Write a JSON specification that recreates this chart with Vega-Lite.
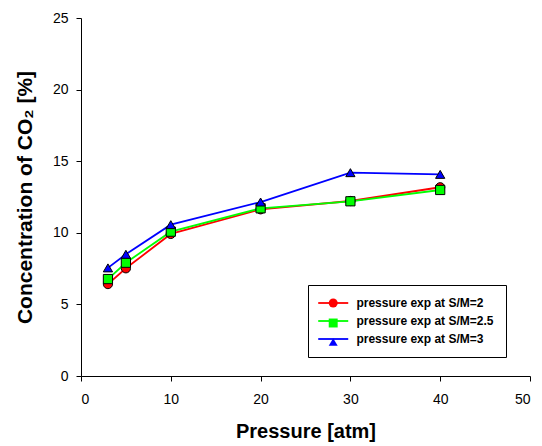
{
  "$schema": "https://vega.github.io/schema/vega-lite/v6.json",
  "width": 449,
  "height": 358,
  "autosize": "none",
  "padding": {"left": 81, "top": 18, "right": 12, "bottom": 70},
  "background": "white",
  "config": {
    "view": {"stroke": null},
    "font": "Liberation Sans",
    "axis": {
      "grid": false,
      "domainColor": "black",
      "tickColor": "black",
      "labelColor": "black",
      "titleColor": "black",
      "labelFontSize": 14,
      "titleFontSize": 20,
      "titleFontWeight": "bold",
      "tickSize": 5,
      "labelFont": "Liberation Sans",
      "titleFont": "Liberation Sans"
    },
    "legend": {
      "labelFont": "Liberation Sans",
      "labelFontSize": 12,
      "labelFontWeight": "bold",
      "labelColor": "black"
    }
  },
  "data": {
    "values": [
      {"p": 3, "c": 6.42, "series": "pressure exp at S/M=2", "s": "2"},
      {"p": 5, "c": 7.52, "series": "pressure exp at S/M=2", "s": "2"},
      {"p": 10, "c": 9.92, "series": "pressure exp at S/M=2", "s": "2"},
      {"p": 20, "c": 11.64, "series": "pressure exp at S/M=2", "s": "2"},
      {"p": 30, "c": 12.22, "series": "pressure exp at S/M=2", "s": "2"},
      {"p": 40, "c": 13.18, "series": "pressure exp at S/M=2", "s": "2"},
      {"p": 3, "c": 6.77, "series": "pressure exp at S/M=2.5", "s": "2.5"},
      {"p": 5, "c": 7.91, "series": "pressure exp at S/M=2.5", "s": "2.5"},
      {"p": 10, "c": 10.08, "series": "pressure exp at S/M=2.5", "s": "2.5"},
      {"p": 20, "c": 11.71, "series": "pressure exp at S/M=2.5", "s": "2.5"},
      {"p": 30, "c": 12.2, "series": "pressure exp at S/M=2.5", "s": "2.5"},
      {"p": 40, "c": 12.99, "series": "pressure exp at S/M=2.5", "s": "2.5"},
      {"p": 3, "c": 7.55, "series": "pressure exp at S/M=3", "s": "3"},
      {"p": 5, "c": 8.5, "series": "pressure exp at S/M=3", "s": "3"},
      {"p": 10, "c": 10.57, "series": "pressure exp at S/M=3", "s": "3"},
      {"p": 20, "c": 12.15, "series": "pressure exp at S/M=3", "s": "3"},
      {"p": 30, "c": 14.2, "series": "pressure exp at S/M=3", "s": "3"},
      {"p": 40, "c": 14.08, "series": "pressure exp at S/M=3", "s": "3"}
    ]
  },
  "encoding": {
    "x": {
      "field": "p",
      "type": "quantitative",
      "scale": {"domain": [0, 50], "nice": false},
      "axis": {"title": "Pressure [atm]", "values": [0, 10, 20, 30, 40, 50], "labelPadding": 11, "titlePadding": 15}
    },
    "y": {
      "field": "c",
      "type": "quantitative",
      "scale": {"domain": [0, 25], "nice": false},
      "axis": {"title": "Concentration of CO₂ [%]", "titleFontSize": 21, "values": [0, 5, 10, 15, 20, 25], "labelPadding": 8, "titlePadding": 17}
    }
  },
  "layer": [
    {
      "mark": {"type": "line", "strokeWidth": 1.8},
      "encoding": {
        "color": {
          "field": "series",
          "type": "nominal",
          "scale": {
            "domain": ["pressure exp at S/M=2", "pressure exp at S/M=2.5", "pressure exp at S/M=3"],
            "range": ["#ff0000", "#00ff00", "#0000ff"]
          },
          "legend": {
            "title": null,
            "orient": "none",
            "legendX": 227,
            "legendY": 267,
            "padding": 12,
            "rowPadding": 6,
            "symbolType": "M-1.74,0H4.97",
            "symbolSize": 80,
            "symbolStrokeWidth": 1.8,
            "labelOffset": 24.4,
            "strokeColor": "black",
            "fillColor": "white"
          }
        }
      }
    },
    {
      "mark": {"type": "point", "filled": true, "size": 85, "stroke": "black", "strokeWidth": 1, "opacity": 1},
      "encoding": {
        "fill": {
          "field": "s",
          "type": "nominal",
          "scale": {
            "domain": ["2", "2.5", "3"],
            "range": ["#ff0000", "#00ff00", "#0000ff"]
          },
          "legend": {
            "title": null,
            "orient": "none",
            "legendX": 234.2,
            "legendY": 267,
            "padding": 12,
            "rowPadding": 6,
            "symbolSize": 80,
            "symbolStrokeColor": "black",
            "symbolStrokeWidth": 1,
            "symbolOpacity": 1,
            "labelExpr": "''",
            "labelOffset": 24.4
          }
        },
        "shape": {
          "field": "s",
          "type": "nominal",
          "scale": {
            "domain": ["2", "2.5", "3"],
            "range": ["circle", "square", "triangle-up"]
          },
          "legend": {
            "title": null,
            "orient": "none",
            "legendX": 234.2,
            "legendY": 267,
            "padding": 12,
            "rowPadding": 6,
            "symbolSize": 80,
            "symbolStrokeColor": "black",
            "symbolStrokeWidth": 1,
            "symbolOpacity": 1,
            "labelExpr": "''",
            "labelOffset": 24.4
          }
        }
      }
    }
  ]
}
